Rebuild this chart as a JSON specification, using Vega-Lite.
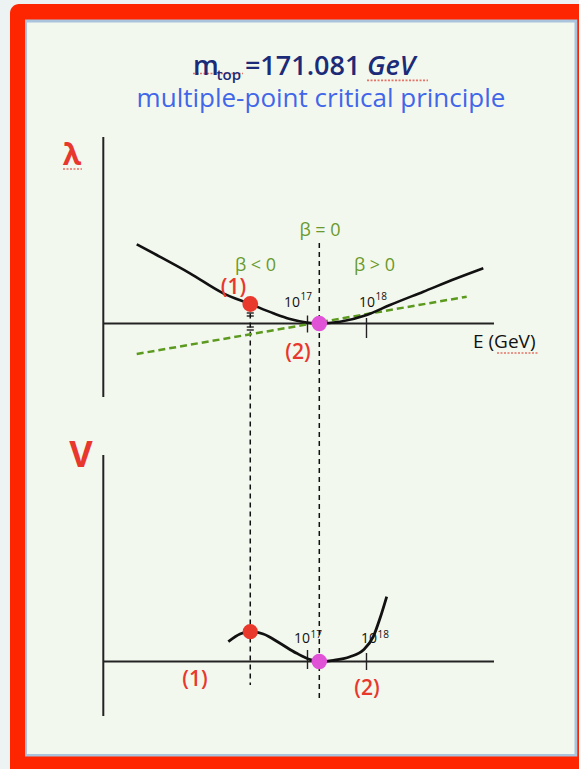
{
  "$schema": "https://vega.github.io/schema/vega-lite/v6.json",
  "width": 579,
  "height": 769,
  "autosize": "none",
  "padding": 0,
  "background": "#edf3f3",
  "config": {
    "axis": {"disable": true},
    "legend": {"disable": true},
    "view": {"stroke": null},
    "text": {"font": "Open Sans"}
  },
  "resolve": {"scale": {"x": "independent", "y": "independent"}},
  "layer": [
    {
      "description": "Slide frame and headings, positioned in percent of the slide",
      "encoding": {
        "x": {"field": "x", "type": "quantitative", "scale": {"domain": [0, 100], "nice": false, "zero": false}},
        "y": {"field": "y", "type": "quantitative", "scale": {"domain": [0, 100], "nice": false, "zero": false, "reverse": true}}
      },
      "layer": [
        {
          "data": {"values": [{"x": 1.727, "x2": 101, "y": 0.52, "y2": 101}]},
          "mark": {"type": "rect", "color": "#fd2600", "cornerRadiusTopLeft": 9},
          "encoding": {"x2": {"field": "x2"}, "y2": {"field": "y2"}}
        },
        {
          "data": {"values": [{"x": 4.318, "x2": 99.7, "y": 2.536, "y2": 98.37}]},
          "mark": {"type": "rect", "color": "#a9c4dc"},
          "encoding": {"x2": {"field": "x2"}, "y2": {"field": "y2"}}
        },
        {
          "data": {"values": [{"x": 4.663, "x2": 99.22, "y": 2.926, "y2": 98.05}]},
          "mark": {"type": "rect", "color": "#f3f8ee"},
          "encoding": {"x2": {"field": "x2"}, "y2": {"field": "y2"}}
        },
        {
          "data": {"values": [
            {"x": 33.33, "x2": 41.97, "y": 9.55},
            {"x": 63.39, "x2": 73.92, "y": 10.45}
          ]},
          "mark": {"type": "rule", "color": "#e0453a", "strokeWidth": 1.6, "strokeDash": [2, 1.5], "opacity": 0.75},
          "encoding": {"x2": {"field": "x2"}}
        },
        {
          "data": {"values": [{"x": 33.33, "y": 9.75, "t": "m"}]},
          "mark": {"type": "text", "align": "left", "baseline": "alphabetic", "fontSize": 27, "fontWeight": 600, "color": "#1c2b78"},
          "encoding": {"text": {"field": "t"}}
        },
        {
          "data": {"values": [{"x": 37.4, "y": 10.35, "t": "top"}]},
          "mark": {"type": "text", "align": "left", "baseline": "alphabetic", "fontSize": 15, "fontWeight": 600, "color": "#1c2b78"},
          "encoding": {"text": {"field": "t"}}
        },
        {
          "data": {"values": [{"x": 42.3, "y": 9.75, "t": "=171.081"}]},
          "mark": {"type": "text", "align": "left", "baseline": "alphabetic", "fontSize": 27, "fontWeight": 600, "color": "#1c2b78"},
          "encoding": {"text": {"field": "t"}}
        },
        {
          "data": {"values": [{"x": 63.4, "y": 9.75, "t": "GeV"}]},
          "mark": {"type": "text", "align": "left", "baseline": "alphabetic", "fontSize": 27, "fontStyle": "italic", "fontWeight": 600, "color": "#1c2b78"},
          "encoding": {"text": {"field": "t"}}
        },
        {
          "data": {"values": [{"x": 55.44, "y": 13.95, "t": "multiple-point critical principle"}]},
          "mark": {"type": "text", "align": "center", "baseline": "alphabetic", "fontSize": 26, "fontWeight": 500, "color": "#4166ea"},
          "encoding": {"text": {"field": "t"}}
        }
      ]
    },
    {
      "description": "Running quartic coupling lambda against log10(E/GeV)",
      "encoding": {
        "x": {"field": "L", "type": "quantitative", "scale": {"domain": [11.788, 21.602], "nice": false, "zero": false}},
        "y": {"field": "lam", "type": "quantitative", "scale": {"domain": [-4.455, 3.235], "nice": false, "zero": false}}
      },
      "layer": [
        {
          "data": {"values": [
            {"L": 13.539, "lam": 1.865, "L2": 13.539, "lam2": -0.735},
            {"L": 13.539, "lam": 0, "L2": 20.161, "lam2": 0}
          ]},
          "mark": {"type": "rule", "color": "#222222", "strokeWidth": 2},
          "encoding": {"x2": {"field": "L2"}, "y2": {"field": "lam2"}}
        },
        {
          "data": {"values": [
            {"L": 17, "lam": 0.08, "L2": 17, "lam2": -0.09},
            {"L": 18, "lam": 0.055, "L2": 18, "lam2": -0.145},
            {"L": 15.97, "lam": 0.105, "L2": 16.09, "lam2": 0.105},
            {"L": 15.97, "lam": 0.075, "L2": 16.09, "lam2": 0.075},
            {"L": 15.97, "lam": -0.035, "L2": 16.09, "lam2": -0.035},
            {"L": 15.97, "lam": -0.065, "L2": 16.09, "lam2": -0.065}
          ]},
          "mark": {"type": "rule", "color": "#222222", "strokeWidth": 1.4},
          "encoding": {"x2": {"field": "L2"}, "y2": {"field": "lam2"}}
        },
        {
          "data": {"values": [
            {"L": 16.03, "lam": 0.19, "lam2": -3.615},
            {"L": 17.2, "lam": 0.805, "lam2": -3.765}
          ]},
          "mark": {"type": "rule", "color": "#111111", "strokeWidth": 1.5, "strokeDash": [5, 4]},
          "encoding": {"y2": {"field": "lam2"}}
        },
        {
          "data": {"values": [
            {"L": 14.105, "lam": -0.305},
            {"L": 19.698, "lam": 0.268}
          ]},
          "mark": {"type": "line", "color": "#5c9a1f", "strokeWidth": 2.5, "strokeDash": [7, 4]},
          "encoding": {}
        },
        {
          "data": {"values": [
            {"L": 14.105, "lam": 0.792},
            {"L": 14.444, "lam": 0.685},
            {"L": 15.008, "lam": 0.502},
            {"L": 15.573, "lam": 0.302},
            {"L": 16.03, "lam": 0.195},
            {"L": 16.42, "lam": 0.102},
            {"L": 16.703, "lam": 0.045},
            {"L": 16.986, "lam": 0.01},
            {"L": 17.2, "lam": 0},
            {"L": 17.551, "lam": 0.018},
            {"L": 18.003, "lam": 0.085},
            {"L": 18.398, "lam": 0.185},
            {"L": 18.963, "lam": 0.318},
            {"L": 19.529, "lam": 0.452},
            {"L": 19.98, "lam": 0.552}
          ]},
          "mark": {"type": "line", "color": "#111111", "strokeWidth": 2.6, "interpolate": "monotone"},
          "encoding": {}
        },
        {
          "data": {"values": [{"L": 16.03, "lam": 0.195}]},
          "mark": {"type": "circle", "color": "#e8392c", "opacity": 1, "size": 250},
          "encoding": {}
        },
        {
          "data": {"values": [{"L": 17.2, "lam": 0}]},
          "mark": {"type": "circle", "color": "#e052d6", "opacity": 1, "size": 240},
          "encoding": {}
        },
        {
          "data": {"values": [
            {"L": 17.212, "lam": 0.875, "t": "β = 0"},
            {"L": 16.119, "lam": 0.525, "t": "β < 0"},
            {"L": 18.136, "lam": 0.525, "t": "β > 0"}
          ]},
          "mark": {"type": "text", "align": "center", "baseline": "alphabetic", "fontSize": 18, "color": "#6a9a2c"},
          "encoding": {"text": {"field": "t"}}
        },
        {
          "data": {"values": [
            {"L": 15.746, "lam": 0.295, "t": "(1)"},
            {"L": 16.839, "lam": -0.355, "t": "(2)"}
          ]},
          "mark": {"type": "text", "align": "center", "baseline": "alphabetic", "fontSize": 21, "fontWeight": 600, "color": "#e8372c"},
          "encoding": {"text": {"field": "t"}}
        },
        {
          "data": {"values": [
            {"L": 16.873, "lam": 0.165, "t": "10"},
            {"L": 18.144, "lam": 0.165, "t": "10"}
          ]},
          "mark": {"type": "text", "align": "right", "baseline": "alphabetic", "fontSize": 14, "color": "#111111"},
          "encoding": {"text": {"field": "t"}}
        },
        {
          "data": {"values": [
            {"L": 16.881, "lam": 0.235, "t": "17"},
            {"L": 18.153, "lam": 0.235, "t": "18"}
          ]},
          "mark": {"type": "text", "align": "left", "baseline": "alphabetic", "fontSize": 10, "color": "#111111"},
          "encoding": {"text": {"field": "t"}}
        },
        {
          "data": {"values": [{"L": 19.805, "lam": -0.245, "t": "E (GeV)"}]},
          "mark": {"type": "text", "align": "left", "baseline": "alphabetic", "fontSize": 19, "color": "#111111"},
          "encoding": {"text": {"field": "t"}}
        },
        {
          "data": {"values": [{"L": 13.008, "lam": 1.585, "t": "λ"}]},
          "mark": {"type": "text", "align": "center", "baseline": "alphabetic", "fontSize": 30, "fontWeight": "bold", "color": "#e8372c"},
          "encoding": {"text": {"field": "t"}}
        },
        {
          "data": {"values": [
            {"L": 12.856, "L2": 13.178, "lam": 1.545},
            {"L": 20.212, "L2": 20.92, "lam": -0.295}
          ]},
          "mark": {"type": "rule", "color": "#e0453a", "strokeWidth": 1.6, "strokeDash": [2, 1.5], "opacity": 0.75},
          "encoding": {"x2": {"field": "L2"}}
        }
      ]
    },
    {
      "description": "Effective potential V against log10(E/GeV)",
      "encoding": {
        "x": {"field": "L", "type": "quantitative", "scale": {"domain": [11.788, 21.602], "nice": false, "zero": false}},
        "y": {"field": "V", "type": "quantitative", "scale": {"domain": [-1.075, 6.615], "nice": false, "zero": false}}
      },
      "layer": [
        {
          "data": {"values": [
            {"L": 13.539, "V": 2.065, "L2": 13.539, "V2": -0.545},
            {"L": 13.539, "V": 0, "L2": 20.161, "V2": 0}
          ]},
          "mark": {"type": "rule", "color": "#222222", "strokeWidth": 2},
          "encoding": {"x2": {"field": "L2"}, "y2": {"field": "V2"}}
        },
        {
          "data": {"values": [
            {"L": 17, "V": 0.115, "L2": 17, "V2": -0.075},
            {"L": 18, "V": 0.085, "L2": 18, "V2": -0.085}
          ]},
          "mark": {"type": "rule", "color": "#222222", "strokeWidth": 1.4},
          "encoding": {"x2": {"field": "L2"}, "y2": {"field": "V2"}}
        },
        {
          "data": {"values": [
            {"L": 15.658, "V": 0.198},
            {"L": 15.856, "V": 0.275},
            {"L": 16.03, "V": 0.298},
            {"L": 16.251, "V": 0.275},
            {"L": 16.534, "V": 0.182},
            {"L": 16.817, "V": 0.082},
            {"L": 17.042, "V": 0.02},
            {"L": 17.2, "V": 0},
            {"L": 17.437, "V": 0.012},
            {"L": 17.72, "V": 0.048},
            {"L": 17.946, "V": 0.115},
            {"L": 18.115, "V": 0.248},
            {"L": 18.229, "V": 0.432},
            {"L": 18.342, "V": 0.648}
          ]},
          "mark": {"type": "line", "color": "#111111", "strokeWidth": 2.8, "interpolate": "monotone"},
          "encoding": {}
        },
        {
          "data": {"values": [{"L": 16.03, "V": 0.298}]},
          "mark": {"type": "circle", "color": "#e8392c", "opacity": 1, "size": 230},
          "encoding": {}
        },
        {
          "data": {"values": [{"L": 17.2, "V": 0}]},
          "mark": {"type": "circle", "color": "#e052d6", "opacity": 1, "size": 240},
          "encoding": {}
        },
        {
          "data": {"values": [
            {"L": 17.042, "V": 0.185, "t": "10"},
            {"L": 18.178, "V": 0.185, "t": "10"}
          ]},
          "mark": {"type": "text", "align": "right", "baseline": "alphabetic", "fontSize": 14, "color": "#111111"},
          "encoding": {"text": {"field": "t"}}
        },
        {
          "data": {"values": [
            {"L": 17.051, "V": 0.24, "t": "17"},
            {"L": 18.186, "V": 0.24, "t": "18"}
          ]},
          "mark": {"type": "text", "align": "left", "baseline": "alphabetic", "fontSize": 10, "color": "#111111"},
          "encoding": {"text": {"field": "t"}}
        },
        {
          "data": {"values": [
            {"L": 15.093, "V": -0.245, "t": "(1)"},
            {"L": 18.008, "V": -0.335, "t": "(2)"}
          ]},
          "mark": {"type": "text", "align": "center", "baseline": "alphabetic", "fontSize": 21, "fontWeight": 600, "color": "#e8372c"},
          "encoding": {"text": {"field": "t"}}
        },
        {
          "data": {"values": [{"L": 13.161, "V": 1.945, "t": "V"}]},
          "mark": {"type": "text", "align": "center", "baseline": "alphabetic", "fontSize": 36, "fontWeight": "bold", "color": "#e8372c"},
          "encoding": {"text": {"field": "t"}}
        }
      ]
    }
  ]
}
